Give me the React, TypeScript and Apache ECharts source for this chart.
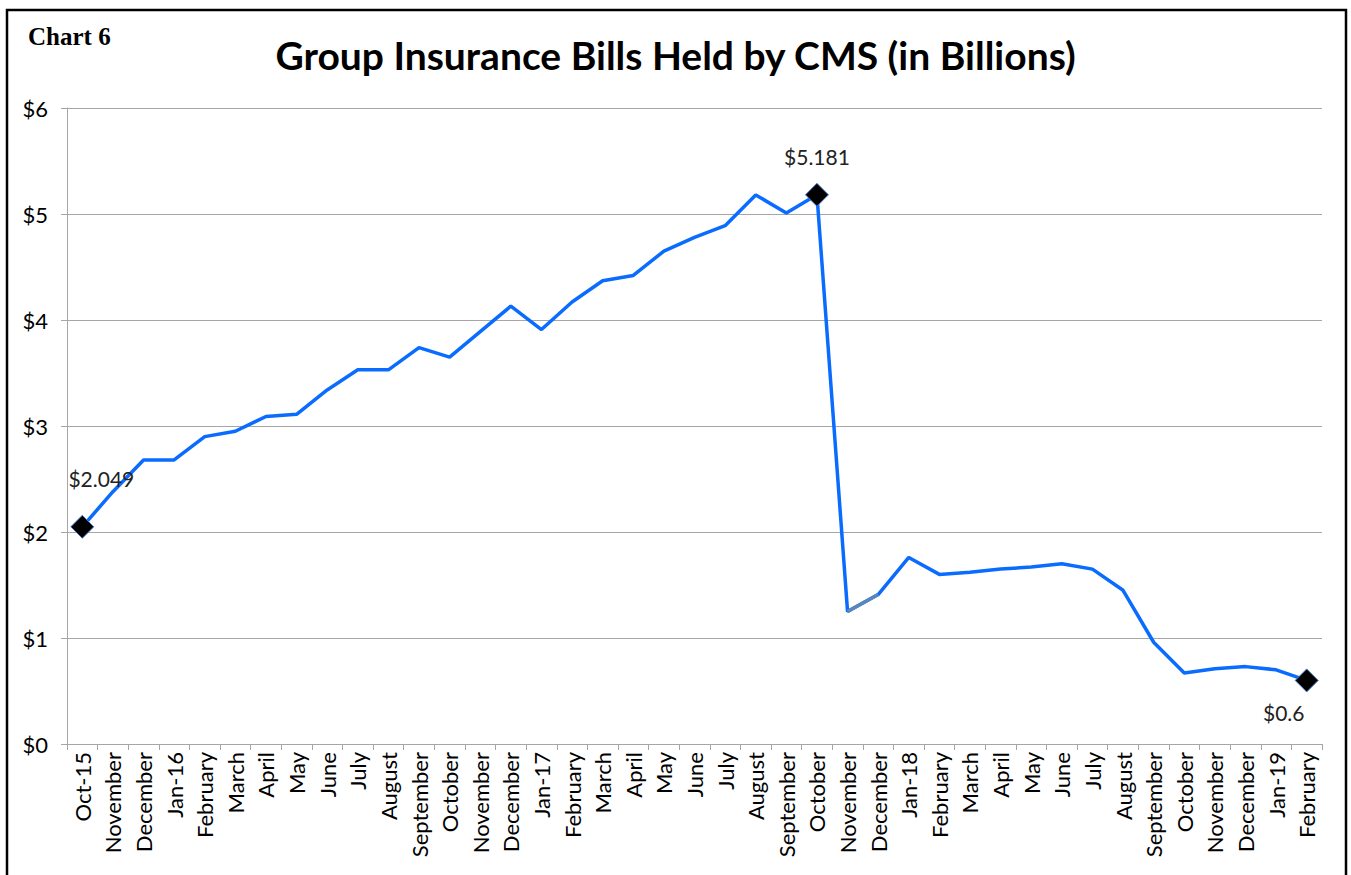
import React, { useEffect, useRef } from "react";
import * as echarts from "echarts";

const categories = [
  "Oct-15", "November", "December", "Jan-16", "February", "March", "April", "May", "June", "July",
  "August", "September", "October", "November", "December", "Jan-17", "February", "March", "April", "May",
  "June", "July", "August", "September", "October", "November", "December", "Jan-18", "February", "March",
  "April", "May", "June", "July", "August", "September", "October", "November", "December", "Jan-19", "February",
];

const values = [
  2.049, 2.38, 2.68, 2.68, 2.9, 2.95, 3.09, 3.11, 3.34, 3.53,
  3.53, 3.74, 3.65, 3.89, 4.13, 3.91, 4.17, 4.37, 4.42, 4.65,
  4.78, 4.89, 5.18, 5.01, 5.181, 1.25, 1.41, 1.76, 1.6, 1.62,
  1.65, 1.67, 1.7, 1.65, 1.45, 0.96, 0.67, 0.71, 0.73, 0.7, 0.6,
];

// indices of the greyish segment (Nov-17 to Dec-17)
const greySegment = [25, 26];

const labelled: Record<number, { text: string; offset: [number, number] }> = {
  0: { text: "$2.049", offset: [19, -48] },
  24: { text: "$5.181", offset: [0, -38] },
  40: { text: "$0.6", offset: [-23, 32] },
};

const yTicks = [0, 1, 2, 3, 4, 5, 6];

export default function App() {
  const ref = useRef<HTMLDivElement>(null);
  useEffect(() => {
    if (!ref.current) return;
    const chart = echarts.init(ref.current, null, { renderer: "svg" });
    const font = "Lato, 'Open Sans', sans-serif";
    const mainData = values.map((v, i) => {
      const l = labelled[i];
      if (!l) return { value: v, symbol: "none" };
      return {
        value: v,
        symbol: "diamond",
        symbolSize: [23, 23],
        itemStyle: { color: "#000", borderColor: "#4a7fd0", borderWidth: 1 },
        label: {
          show: true,
          formatter: l.text,
          position: "inside",
          offset: l.offset,
          fontSize: 21,
          color: "#222",
          fontFamily: font,
        },
      };
    });
    const greyData = values.map((v, i) => (greySegment.includes(i) ? v : null));
    chart.setOption({
      animation: false,
      backgroundColor: "#fff",
      grid: { left: 67, right: 29, top: 108, bottom: 131, containLabel: false },
      title: {
        text: "Group Insurance Bills Held by CMS (in Billions)",
        left: "center",
        top: 30,
        textStyle: { fontFamily: font, fontSize: 39, fontWeight: "bold", color: "#000" },
      },
      graphic: [
        {
          type: "rect",
          shape: { x: 7, y: 10, width: 1339, height: 900 },
          style: { fill: "none", stroke: "#000", lineWidth: 2.5 },
          silent: true,
        },
        {
          type: "text",
          x: 28,
          y: 24,
          style: {
            text: "Chart 6",
            font: "bold 25px 'Liberation Serif', 'DejaVu Serif', serif",
            fill: "#000",
          },
        },
      ],
      xAxis: {
        type: "category",
        data: categories,
        boundaryGap: true,
        axisLine: { lineStyle: { color: "#a6a6a6", width: 1 } },
        axisTick: { show: true, length: 6, lineStyle: { color: "#a6a6a6" } },
        axisLabel: {
          interval: 0,
          rotate: 90,
          fontSize: 22,
          color: "#000",
          fontFamily: font,
          margin: 8,
        },
        splitLine: { show: false },
      },
      yAxis: {
        type: "value",
        min: yTicks[0],
        max: yTicks[yTicks.length - 1],
        interval: 1,
        axisLine: { show: true, lineStyle: { color: "#a6a6a6", width: 1 } },
        axisTick: { show: true, length: 6, lineStyle: { color: "#a6a6a6" } },
        axisLabel: {
          formatter: (v: number) => "$" + v,
          fontSize: 22,
          color: "#000",
          fontFamily: font,
          margin: 19,
        },
        splitLine: { show: true, lineStyle: { color: "#a6a6a6", width: 1 } },
      },
      series: [
        {
          type: "line",
          data: mainData,
          lineStyle: { color: "#0a6cff", width: 3.5 },
          itemStyle: { color: "#0a6cff" },
          showSymbol: true,
          z: 3,
        },
        {
          type: "line",
          data: greyData,
          symbol: "none",
          lineStyle: { color: "#5b87b8", width: 3.5 },
          z: 4,
        },
      ],
    });
    return () => chart.dispose();
  }, []);
  return <div ref={ref} style={{ width: 1351, height: 875, position: "absolute", left: 0, top: 0 }} />;
}
